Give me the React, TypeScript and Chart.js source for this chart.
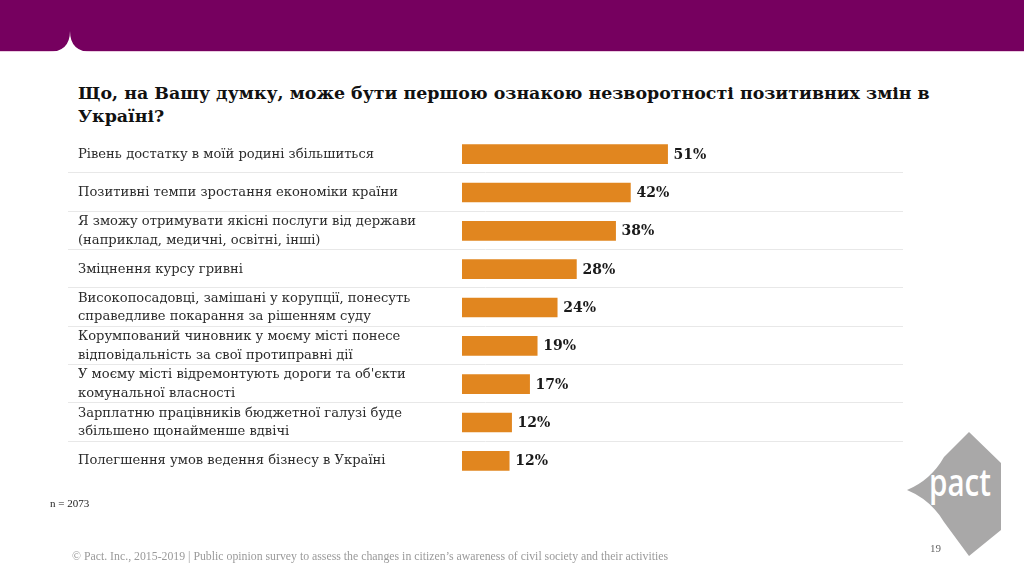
import React, { useEffect, useRef } from "react";
import { Chart, registerables } from "chart.js";

Chart.register(...registerables);

const titleLines = [
  "Що, на Вашу думку, може бути першою ознакою незворотності позитивних змін в",
  "Україні?",
];

const categories: (string | string[])[] = [
  "Рівень достатку в моїй родині збільшиться",
  "Позитивні темпи зростання економіки країни",
  ["Я зможу отримувати якісні послуги від держави", "(наприклад, медичні, освітні, інші)"],
  "Зміцнення курсу гривні",
  ["Високопосадовці, замішані у корупції, понесуть", "справедливе покарання за рішенням суду"],
  ["Корумпований чиновник у моєму місті понесе", "відповідальність за свої протиправні дії"],
  ["У моєму місті відремонтують дороги та об'єкти", "комунальної власності"],
  ["Зарплатню працівників бюджетної галузі буде", "збільшено щонайменше вдвічі"],
  "Полегшення умов ведення бізнесу в Україні",
];

const values = [51.4, 42.1, 38.4, 28.6, 23.8, 18.8, 16.9, 12.4, 11.8];
const valueLabels = ["51%", "42%", "38%", "28%", "24%", "19%", "17%", "12%", "12%"];

const sampleNote = "n = 2073";
const footerText =
  "© Pact. Inc., 2015-2019 | Public opinion survey to assess the changes in citizen’s awareness of civil society and their activities";
const pageNumber = "19";

const BAR_COLOR = "#E1861F";
const SERIF = "'DejaVu Serif', Georgia, serif";

const valueLabelPlugin = {
  id: "valueLabels",
  afterDatasetsDraw(chart: any) {
    const ctx = chart.ctx;
    const meta = chart.getDatasetMeta(0);
    ctx.save();
    ctx.font = `bold 14px ${SERIF}`;
    ctx.fillStyle = "#1a1a1a";
    ctx.textAlign = "left";
    ctx.textBaseline = "middle";
    meta.data.forEach((bar: any, i: number) => {
      ctx.fillText(valueLabels[i], bar.x + 6, bar.y + 1);
    });
    ctx.restore();
  },
};

const separatorPlugin = {
  id: "rowSeparators",
  beforeDatasetsDraw(chart: any) {
    const ctx = chart.ctx;
    const y = chart.scales.y;
    ctx.save();
    ctx.strokeStyle = "#e8e8e8";
    ctx.lineWidth = 1;
    for (let i = 0; i < categories.length - 1; i++) {
      const py = Math.round((y.getPixelForValue(i) + y.getPixelForValue(i + 1)) / 2) - 0.5;
      ctx.beginPath();
      ctx.moveTo(68, py);
      ctx.lineTo(903, py);
      ctx.stroke();
    }
    ctx.restore();
  },
};

function BarChart() {
  const ref = useRef<HTMLCanvasElement>(null);
  useEffect(() => {
    if (!ref.current) return;
    const chart = new Chart(ref.current, {
      type: "bar",
      data: {
        labels: categories,
        datasets: [
          {
            data: values,
            backgroundColor: BAR_COLOR,
            borderWidth: 0,
            barThickness: 19,
          },
        ],
      },
      options: {
        indexAxis: "y",
        animation: false,
        responsive: false,
        devicePixelRatio: 1,
        layout: { padding: { left: 78, right: 162, top: 135, bottom: 96 } },
        plugins: { legend: { display: false }, tooltip: { enabled: false }, title: { display: false } },
        scales: {
          x: { display: false, min: 0, max: 100 },
          y: {
            grid: { display: false },
            border: { display: false },
            afterFit(scale: any) {
              scale.width = 384;
            },
            ticks: {
              autoSkip: false,
              crossAlign: "far",
              color: "#2b2b2b",
              padding: 0,
              font: { family: SERIF, size: 13.1, lineHeight: 1.42 },
            },
          },
        },
      },
      plugins: [separatorPlugin, valueLabelPlugin],
    });
    return () => chart.destroy();
  }, []);
  return (
    <canvas
      ref={ref}
      width={1024}
      height={576}
      style={{ position: "absolute", left: 0, top: 0, width: 1024, height: 576 }}
    />
  );
}

export default function App() {
  return (
    <div style={{ position: "absolute", left: 0, top: 0, width: 1024, height: 576, background: "#fff", overflow: "hidden" }}>
      <svg width={1024} height={576} style={{ position: "absolute", left: 0, top: 0 }}>
        <rect x={0} y={0} width={1024} height={51} fill="#76005F" />
        <rect x={0} y={51} width={1024} height={1} fill="#E9CBE0" />
        <path d="M48,52 Q70,52 70,31 Q70,52 92,52 Z" fill="#ffffff" />
        <path
          d="M969,432 L1001,463 L1001,530 L969,556 L944,522 Q931,500 907,490 Q931,480 944,457 Z"
          fill="#A9A8A8"
        />
        <text
          x={929}
          y={496}
          fill="#ffffff"
          fontFamily="'Open Sans', 'Noto Sans', sans-serif"
          fontWeight={600}
          fontSize={37}
          textLength={62}
          lengthAdjust="spacingAndGlyphs"
        >
          pact
        </text>
      </svg>
      <div
        style={{
          position: "absolute",
          left: 78,
          top: 82,
          width: 900,
          fontFamily: SERIF,
          fontWeight: "bold",
          fontSize: 17.4,
          lineHeight: "23px",
          color: "#111",
          whiteSpace: "nowrap",
        }}
      >
        {titleLines.map((l, i) => (
          <div key={i}>{l}</div>
        ))}
      </div>
      <BarChart />
      <div style={{ position: "absolute", left: 50, top: 497, fontFamily: "'Liberation Serif', serif", fontSize: 11, color: "#222" }}>
        {sampleNote}
      </div>
      <div
        style={{
          position: "absolute",
          left: 72,
          top: 549,
          fontFamily: "'Liberation Serif', serif",
          fontSize: 11.8,
          color: "#9a9a9a",
          whiteSpace: "nowrap",
        }}
      >
        {footerText}
      </div>
      <div style={{ position: "absolute", left: 930, top: 542, fontFamily: "'Liberation Serif', serif", fontSize: 11, color: "#666" }}>
        {pageNumber}
      </div>
    </div>
  );
}
